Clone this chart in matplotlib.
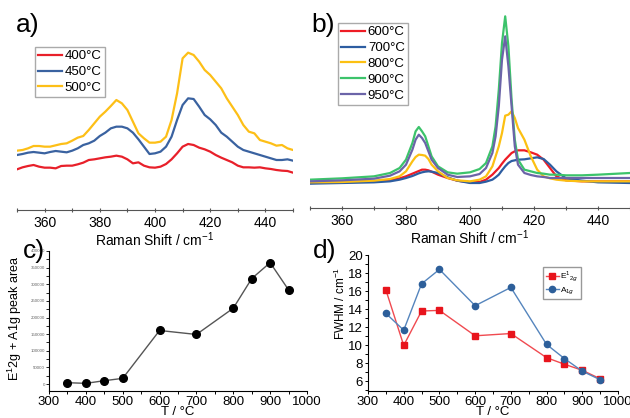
import matplotlib
matplotlib.use("Agg")
import matplotlib.pyplot as plt
from matplotlib.ticker import MultipleLocator, FixedLocator

plt.rcParams['font.family'] = ['Liberation Sans', 'DejaVu Sans']
plt.rcParams['mathtext.fontset'] = 'custom'
plt.rcParams['mathtext.rm'] = 'Liberation Sans'

# ---- panel a: Raman spectra 400-500 C (intensity in arbitrary units)
shift_a = [350, 352, 354, 356, 358, 360, 362, 364, 366, 368, 370, 372, 374, 376, 378,
           380, 382, 384, 386, 388, 390, 392, 394, 396, 398, 400, 402, 404, 406, 408,
           410, 412, 414, 416, 418, 420, 422, 424, 426, 428, 430, 432, 434, 436, 438,
           440, 442, 444, 446, 448, 450]
a_400 = [508, 502, 498, 495, 500, 503, 503, 505, 498, 497, 497, 493, 488, 480, 478,
         475, 472, 470, 467, 470, 478, 490, 487, 497, 502, 503, 500, 492, 478, 460,
         440, 432, 435, 443, 448, 455, 465, 473, 480, 487, 497, 502, 502, 503, 502,
         505, 507, 510, 512, 513, 518]
a_450 = [465, 462, 458, 456, 458, 460, 456, 453, 455, 457, 452, 445, 435, 430, 422,
         408, 398, 385, 380, 380, 385, 398, 418, 440, 462, 460, 455, 440, 410, 360,
         315, 295, 297, 320, 345, 358, 375, 398, 410, 425, 440, 450, 455, 460, 465,
         470, 475, 480, 480, 478, 482]
a_500 = [452, 450, 445, 438, 438, 440, 440, 436, 432, 430, 422, 413, 408, 390, 370,
         350, 335, 318, 300, 310, 330, 365, 400, 415, 428, 428, 425, 410, 360, 280,
         175, 158, 165, 185, 210, 225, 245, 265, 295, 320, 345, 375, 395, 400, 420,
         425, 430, 437, 435, 445, 450]
labels_a = ['400°C', '450°C', '500°C']

# ---- panel b: Raman spectra 600-950 C
shift_b = [350, 360, 370, 375, 378, 380, 382, 383, 384, 385, 386, 387, 388, 390, 393,
           396, 400, 403, 405, 407, 408, 409, 410, 411, 412, 413, 414, 415, 417, 419,
           421, 423, 425, 427, 430, 435, 440, 450]
b_600 = [550, 548, 545, 542, 536, 530, 522, 518, 514, 510, 510, 512, 516, 525, 535,
         543, 548, 547, 540, 525, 515, 505, 492, 480, 470, 460, 455, 452, 452, 458,
         465, 480, 505, 530, 542, 545, 545, 545]
b_700 = [552, 550, 548, 545, 540, 535, 529, 525, 521, 518, 516, 515, 516, 520, 533,
         543, 550, 550, 546, 540, 533, 525, 512, 500, 490, 484, 482, 480, 479, 476,
         473, 478, 495, 515, 536, 543, 548, 550]
b_800 = [548, 547, 543, 538, 530, 515, 485, 472, 465, 466, 468, 478, 495, 515, 535,
         542, 545, 540, 530, 500, 470, 440, 400, 348, 345, 335, 355, 385, 420, 470,
         510, 530, 536, 540, 543, 545, 545, 545]
b_900 = [540, 536, 530, 520, 505, 480, 430, 395, 382, 395, 410, 440, 470, 500, 518,
         522, 518, 508, 490, 440, 380, 270, 130, 50, 140, 300, 420, 480, 510, 515,
         520, 522, 525, 525, 527, 527, 525, 520]
b_950 = [545, 542, 537, 528, 515, 495, 450, 420, 405, 415, 430, 455, 480, 505, 525,
         532, 530, 523, 505, 460, 410, 320, 180, 110, 200, 320, 440, 495, 520, 526,
         530, 532, 535, 535, 535, 535, 535, 535]
labels_b = ['600°C', '700°C', '800°C', '900°C', '950°C']

# ---- panel c: peak area vs temperature
temp = [350, 400, 450, 500, 600, 700, 800, 850, 900, 950]
area = [4000, 2000, 10000, 17000, 161000, 149000, 228000, 317000, 365000, 283000]

# ---- panel d: FWHM vs temperature
fwhm_e = [16.13, 9.96, 13.78, 13.85, 11.03, 11.28, 8.6, 7.87, 7.2, 6.26]
fwhm_a = [13.52, 11.65, 16.8, 18.4, 14.37, 16.4, 10.07, 8.5, 7.1, 6.15]

W, H = 630, 418
fig = plt.figure(figsize=(W / 100, H / 100), dpi=100)


def box(x0, y0, x1, y1):
    # pixel box (top-left origin) -> figure fraction rect
    return [x0 / W, 1 - y1 / H, (x1 - x0) / W, (y1 - y0) / H]


def spectrum_axis(ax):
    ax.set_xlim(350, 450)
    ax.xaxis.set_major_locator(FixedLocator([360, 380, 400, 420, 440]))
    ax.xaxis.set_minor_locator(MultipleLocator(10))
    ax.set_yticks([])
    for s in ['left', 'top', 'right']:
        ax.spines[s].set_visible(False)
    ax.spines['bottom'].set_color('#555555')
    ax.tick_params(axis='x', which='both', direction='inout', length=3,
                   width=0.8, color='#555555', labelsize=10, pad=3)
    ax.set_xlabel('Raman Shift / cm$^{-1}$', fontsize=10, labelpad=0)


leg_kw = dict(fontsize=9.5, frameon=True, fancybox=False, edgecolor='#aaaaaa',
              framealpha=1, handlelength=1.8, handletextpad=0.2,
              labelspacing=0.27, borderpad=0.25, borderaxespad=0)

# panel a
ax_a = fig.add_axes(box(17, 40, 293, 210))
cols_a = ['#e8202a', '#3a62a0', '#fdbf17']
for ys, c, lab in zip([a_400, a_450, a_500], cols_a, labels_a):
    ax_a.plot(shift_a, [(630 - v) / 3 for v in ys], color=c, lw=1.6, label=lab)
ax_a.set_ylim(0, 170)
spectrum_axis(ax_a)
ax_a.legend(loc='upper left', bbox_to_anchor=(0.065, 0.96), **leg_kw)

# panel b
ax_b = fig.add_axes(box(310, 10, 630, 208))
cols_b = ['#ee1c25', '#2d5da1', '#fcc012', '#3cc36b', '#6b64a8']
for ys, c, lab in zip([b_600, b_700, b_800, b_900, b_950], cols_b, labels_b):
    ax_b.plot(shift_b, [(625 - v) / 3 for v in ys], color=c, lw=1.6, label=lab)
ax_b.set_ylim(0, 198)
spectrum_axis(ax_b)
ax_b.legend(loc='upper left', bbox_to_anchor=(0.088, 0.935), **leg_kw)

# panel c
ax_c = fig.add_axes(box(49, 251, 307, 391))
ax_c.plot(temp, area, color='#555555', lw=1, marker='o', ms=5.5,
          mfc='black', mec='black')
ax_c.set_xlim(300, 1000)
ax_c.set_ylim(-21000, 400000)
ax_c.xaxis.set_major_locator(MultipleLocator(100))
ax_c.xaxis.set_minor_locator(MultipleLocator(50))
ax_c.yaxis.set_major_locator(MultipleLocator(50000))
ax_c.yaxis.set_minor_locator(MultipleLocator(25000))
ax_c.tick_params(axis='x', which='both', labelsize=9.5, length=2.5, width=0.7, pad=1)
ax_c.tick_params(axis='y', which='both', labelsize=3.2, length=2, width=0.6, pad=1,
                 labelcolor='#666666')
for s in ['top', 'right']:
    ax_c.spines[s].set_visible(False)
for s in ['left', 'bottom']:
    ax_c.spines[s].set_linewidth(0.8)
ax_c.set_xlabel('T / °C', fontsize=9.5, labelpad=-1)
fig.text(15 / W, 1 - 318 / H, 'E$^{1}$2g + A1g peak area', rotation=90,
         fontsize=9, ha='center', va='center')

# panel d
ax_d = fig.add_axes(box(368, 255, 618, 391))
ax_d.plot(temp, fwhm_e, color='#f04a50', lw=1, marker='s', ms=4.5,
          mfc='#e8141c', mec='#e8141c', label='E$^{1}$$_{2g}$')
ax_d.plot(temp, fwhm_a, color='#5585bd', lw=1, marker='o', ms=4.5,
          mfc='#2d5f9a', mec='#2d5f9a', label='A$_{1g}$')
ax_d.set_xlim(300, 1000)
ax_d.set_ylim(4.9, 20)
ax_d.xaxis.set_major_locator(MultipleLocator(100))
ax_d.xaxis.set_minor_locator(MultipleLocator(50))
ax_d.yaxis.set_major_locator(MultipleLocator(2))
ax_d.yaxis.set_minor_locator(MultipleLocator(1))
ax_d.tick_params(axis='both', which='both', labelsize=9.5, length=2.5, width=0.7, pad=1)
for s in ['top', 'right']:
    ax_d.spines[s].set_visible(False)
for s in ['left', 'bottom']:
    ax_d.spines[s].set_linewidth(0.8)
ax_d.set_xlabel('T / °C', fontsize=9.5, labelpad=-1)
fig.text(340 / W, 1 - 303 / H, 'FWHM / cm$^{-1}$', rotation=90,
         fontsize=8.5, ha='center', va='center')
ax_d.legend(loc='upper left', bbox_to_anchor=(0.70, 0.91), fontsize=6,
            frameon=True, fancybox=False, edgecolor='#999999', framealpha=1,
            handlelength=1.6, handletextpad=0.2, labelspacing=0.2,
            borderpad=0.3, borderaxespad=0)

# panel letters
fig.text(16 / W, 1 - 25 / H, 'a)', fontsize=19, ha='left', va='center')
fig.text(311 / W, 1 - 25 / H, 'b)', fontsize=19, ha='left', va='center')
fig.text(23 / W, 1 - 251 / H, 'c)', fontsize=19, ha='left', va='center')
fig.text(313 / W, 1 - 251 / H, 'd)', fontsize=19, ha='left', va='center')

fig.savefig('out.png', dpi=100)
